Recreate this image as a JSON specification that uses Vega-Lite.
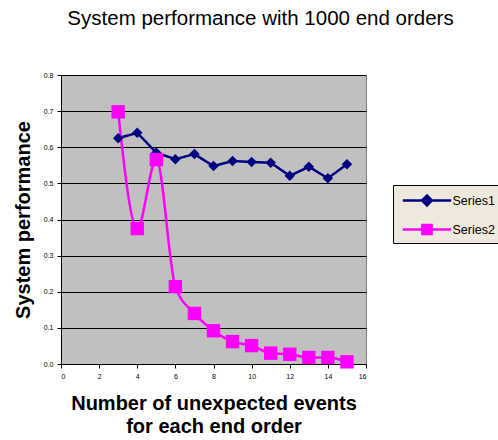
{
  "$schema": "https://vega.github.io/schema/vega-lite/v6.json",
  "width": 305,
  "height": 289,
  "autosize": "none",
  "padding": {"left": 61, "top": 75, "right": 132, "bottom": 76},
  "background": "white",
  "title": {
    "text": "System performance with 1000 end orders",
    "font": "Liberation Sans",
    "fontSize": 20.5,
    "fontWeight": "normal",
    "color": "black",
    "anchor": "middle",
    "dx": 47,
    "offset": 42
  },
  "config": {
    "view": {"fill": "#c0c0c0", "stroke": "#808080", "strokeWidth": 1},
    "font": "Liberation Sans"
  },
  "data": {
    "values": [
      {"x": 3, "y": 0.625, "s": "Series1"},
      {"x": 4, "y": 0.640, "s": "Series1"},
      {"x": 5, "y": 0.585, "s": "Series1"},
      {"x": 6, "y": 0.567, "s": "Series1"},
      {"x": 7, "y": 0.581, "s": "Series1"},
      {"x": 8, "y": 0.548, "s": "Series1"},
      {"x": 9, "y": 0.562, "s": "Series1"},
      {"x": 10, "y": 0.559, "s": "Series1"},
      {"x": 11, "y": 0.557, "s": "Series1"},
      {"x": 12, "y": 0.521, "s": "Series1"},
      {"x": 13, "y": 0.546, "s": "Series1"},
      {"x": 14, "y": 0.514, "s": "Series1"},
      {"x": 15, "y": 0.553, "s": "Series1"},
      {"x": 3, "y": 0.698, "s": "Series2"},
      {"x": 4, "y": 0.375, "s": "Series2"},
      {"x": 5, "y": 0.566, "s": "Series2"},
      {"x": 6, "y": 0.214, "s": "Series2"},
      {"x": 7, "y": 0.140, "s": "Series2"},
      {"x": 8, "y": 0.092, "s": "Series2"},
      {"x": 9, "y": 0.062, "s": "Series2"},
      {"x": 10, "y": 0.051, "s": "Series2"},
      {"x": 11, "y": 0.030, "s": "Series2"},
      {"x": 12, "y": 0.027, "s": "Series2"},
      {"x": 13, "y": 0.018, "s": "Series2"},
      {"x": 14, "y": 0.018, "s": "Series2"},
      {"x": 15, "y": 0.006, "s": "Series2"}
    ]
  },
  "encoding": {
    "x": {
      "field": "x",
      "type": "quantitative",
      "scale": {"domain": [0, 16], "nice": false, "zero": false},
      "axis": {
        "values": [0, 2, 4, 6, 8, 10, 12, 14, 16],
        "grid": false,
        "domainColor": "black",
        "tickColor": "black",
        "tickSize": 4,
        "labelFontSize": 7,
        "labelColor": "black",
        "labelPadding": 4,
        "title": ["Number of unexpected events", "for each end order"],
        "titleFontSize": 20,
        "titleFontWeight": "bold",
        "titleColor": "black",
        "titlePadding": 14,
        "titleLineHeight": 23
      }
    },
    "y": {
      "field": "y",
      "type": "quantitative",
      "scale": {"domain": [0, 0.8], "nice": false},
      "axis": {
        "values": [0, 0.1, 0.2, 0.3, 0.4, 0.5, 0.6, 0.7, 0.8],
        "grid": true,
        "gridColor": "black",
        "gridOpacity": 1,
        "gridWidth": 1,
        "domainColor": "black",
        "tickColor": "black",
        "tickSize": 4,
        "labelFontSize": 7,
        "labelColor": "black",
        "labelPadding": 4,
        "title": "System performance",
        "titleFontSize": 20,
        "titleFontWeight": "bold",
        "titleColor": "black",
        "titlePadding": 10
      }
    },
    "color": {
      "field": "s",
      "type": "nominal",
      "scale": {"domain": ["Series1", "Series2"], "range": ["#000080", "#ff00ff"]},
      "legend": {
        "title": null,
        "orient": "none",
        "legendX": 332,
        "legendY": 110,
        "fillColor": "#efe8dc",
        "strokeColor": "black",
        "padding": 3,
        "labelFontSize": 12.5,
        "labelColor": "black",
        "symbolSize": 484,
        "symbolStrokeWidth": 2.5,
        "symbolOffset": 18.5,
        "labelOffset": 13,
        "rowPadding": 6,
        "encode": {
          "symbols": {
            "update": {
              "shape": {"signal": "datum.value === 'Series1' ? 'M-2.2,0H2.2M-0.45,0L0,-0.45L0.45,0L0,0.45Z' : 'M-2.2,0H2.2M-0.42,-0.42H0.42V0.42H-0.42Z'"},
              "strokeWidth": {"value": 2.5},
              "fillOpacity": {"value": 1},
              "size": {"value": 484}
            }
          }
        }
      }
    }
  },
  "layer": [
    {
      "transform": [{"filter": "datum.s === 'Series1'"}],
      "mark": {"type": "line", "strokeWidth": 2.5}
    },
    {
      "transform": [{"filter": "datum.s === 'Series2'"}],
      "mark": {"type": "line", "strokeWidth": 2.5, "interpolate": "monotone"}
    },
    {
      "transform": [{"filter": "datum.s === 'Series1'"}],
      "mark": {"type": "point", "shape": "diamond", "size": 110, "filled": true, "opacity": 1}
    },
    {
      "transform": [{"filter": "datum.s === 'Series2'"}],
      "mark": {"type": "point", "shape": "square", "size": 180, "filled": true, "opacity": 1}
    }
  ]
}
